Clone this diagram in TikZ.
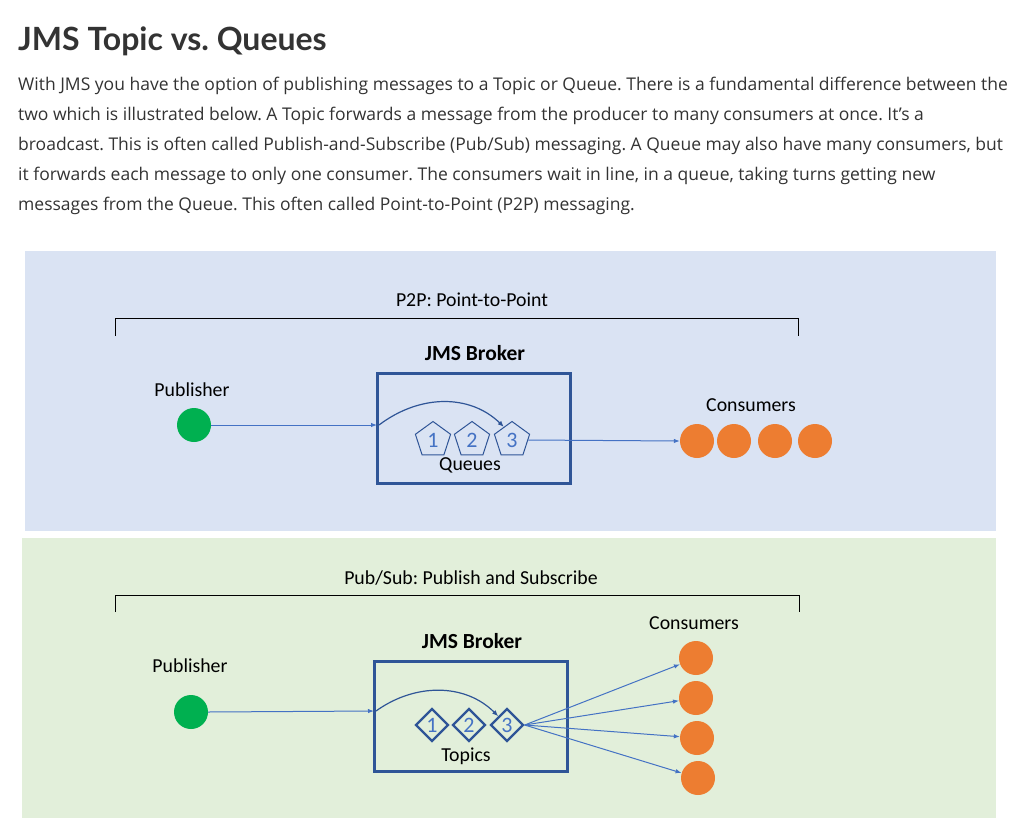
\documentclass[tikz,border=0pt]{standalone}
\usepackage{fontspec}
\setmainfont{Lato}
\newfontfamily\bodyfont{Open Sans}
\newfontfamily\calfont{Carlito}
\usetikzlibrary{shapes.geometric,arrows.meta,calc}
\definecolor{panelblue}{HTML}{DAE3F3}
\definecolor{panelgreen}{HTML}{E2EFDA}
\definecolor{boxblue}{HTML}{2F5597}
\definecolor{lineblue}{HTML}{4472C4}
\definecolor{pubgreen}{HTML}{00B050}
\definecolor{consorange}{HTML}{ED7D31}
\definecolor{textgray}{HTML}{333333}
\frenchspacing
\tikzset{
  body/.style={anchor=base west, inner sep=0, text=textgray, font=\bodyfont\fontsize{17.5}{17.5}\selectfont},
  lbl/.style={inner sep=0, font=\calfont\fontsize{19.8}{19.8}\selectfont, text=black},
  hdr/.style={inner sep=0, font=\calfont\bfseries\fontsize{21.5}{21.5}\selectfont, text=black},
  brokerbox/.style={draw=boxblue, line width=3pt, fill=none},
  pubdot/.style={circle, fill=pubgreen, minimum size=34pt, inner sep=0},
  consdot/.style={circle, fill=consorange, minimum size=34pt, inner sep=0},
  qshape/.style={regular polygon, regular polygon sides=5, minimum size=37pt, inner sep=0, draw=boxblue, line width=1pt, text=lineblue, font=\calfont\fontsize{22}{22}\selectfont},
  tshape/.style={diamond, minimum width=33pt, minimum height=33pt, inner sep=0, draw=boxblue, line width=2.3pt, text=lineblue, font=\calfont\fontsize{22}{22}\selectfont},
  arr/.style={draw=lineblue, line width=1pt, -{Latex[length=6pt,width=4.5pt]}},
  curvearr/.style={draw=boxblue, line width=1.2pt, -{Latex[length=6pt,width=5pt]}},
  bracket/.style={draw=black, line width=1pt}
}
\begin{document}
\begin{tikzpicture}[x=1pt,y=-1pt]
\useasboundingbox (0,0) rectangle (1021,839);
\fill[white] (0,0) rectangle (1021,839);
% Title and text
\node[anchor=base west, inner sep=0, text=textgray, font=\bfseries\fontsize{32}{32}\selectfont] (title) at (18,50) {JMS Topic vs. Queues};
\node[body] (l1) at (18,90) {With JMS you have the option of publishing messages to a Topic or Queue. There is a fundamental difference between the};
\node[body] (l2) at (18,120) {two which is illustrated below. A Topic forwards a message from the producer to many consumers at once. It’s a};
\node[body] (l3) at (18,150) {broadcast. This is often called Publish-and-Subscribe (Pub/Sub) messaging. A Queue may also have many consumers, but};
\node[body] (l4) at (18,180) {it forwards each message to only one consumer. The consumers wait in line, in a queue, taking turns getting new};
\node[body] (l5) at (18,210) {messages from the Queue. This often called Point-to-Point (P2P) messaging.};
% Panels
\fill[panelblue] (25,251) rectangle (996,531);
\fill[panelgreen] (22,538) rectangle (996,818);

% ---------- P2P ----------
\node[lbl] (p2ptitle) at (472,300) {P2P: Point-to-Point};
\draw[bracket] (115,336) -- (115,318) -- (798,318) -- (798,336);
\node[hdr] (qhdr) at (475,353) {JMS Broker};
\draw[brokerbox] (377,373) rectangle (570,483);
\coordinate (qboxw) at (377,425);
\node[lbl] (qpublbl) at (192,390) {Publisher};
\node[pubdot] (qpub) at (194,425) {};
\node[qshape] (q1) at (433,440) {1};
\node[qshape] (q2) at (472,440) {2};
\node[qshape] (q3) at (512,440) {3};
\node[lbl] (queues) at (470,465) {Queues};
\node[lbl] (qconslbl) at (751,405) {Consumers};
\node[consdot] (c1) at (697,441) {};
\node[consdot] (c2) at (734,441) {};
\node[consdot] (c3) at (775,441) {};
\node[consdot] (c4) at (815,441) {};
\draw[arr] (qpub.east) -- (qboxw);
\draw[curvearr] (379,425) .. controls (420,394) and (470,394) .. ($(q3.corner 1)!0.45!(q3.corner 2)$);
\draw[arr] (q3.east) -- (c1.west);

% ---------- Pub/Sub ----------
\node[lbl] (pstitle) at (471,578) {Pub/Sub: Publish and Subscribe};
\draw[bracket] (115,612) -- (115,595) -- (799,595) -- (799,612);
\node[hdr] (thdr) at (472,641) {JMS Broker};
\draw[brokerbox] (374,661) rectangle (567,771);
\coordinate (tboxw) at (374,711);
\node[lbl] (tpublbl) at (190,666) {Publisher};
\node[pubdot] (tpub) at (191,712) {};
\node[tshape] (t1) at (432,725) {1};
\node[tshape] (t2) at (469,725) {2};
\node[tshape] (t3) at (507,725) {3};
\node[lbl] (topics) at (466,756) {Topics};
\node[lbl] (tconslbl) at (694,623) {Consumers};
\node[consdot] (s1) at (696,658) {};
\node[consdot] (s2) at (696,698) {};
\node[consdot] (s3) at (697,738) {};
\node[consdot] (s4) at (698,778) {};
\draw[arr] (tpub.east) -- (tboxw);
\draw[curvearr] (376,711) .. controls (415,683) and (465,683) .. ($(t3.north)!0.5!(t3.west)$);
\foreach \s in {s1,s2,s3,s4} \draw[arr] (t3.east) -- (\s);
\end{tikzpicture}
\end{document}
